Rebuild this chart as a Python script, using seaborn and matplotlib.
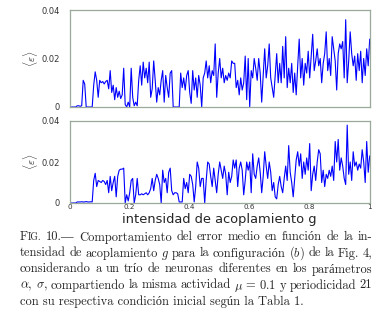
import numpy as np
import matplotlib
matplotlib.use('Agg')
import matplotlib.pyplot as plt
import seaborn as sns

# coupling strength grid and mean error for the two configurations
g = np.linspace(0, 1, 201)

err_top = [
    0, 0, 0, 0, 0, .0005, .0005, .0003, .0005, .011,
    .0095, 0, 0, 0, 0, 0, .009, .0145, .011, .004,
    .011, .010, .0105, .0095, .0105, .011, .0075, .015, .006, .009,
    .003, .008, .004, .0065, .0035, .005, .016, .001, 0, .002,
    0, .016, .004, .0005, .002, .0005, .011, .017, .009, .0185,
    .012, .016, .010, .0185, .004, .0075, .019, .011, .002, .008,
    .005, .011, .015, .002, .013, .008, .004, .014, .015, 0,
    0, 0, 0, 0, .014, .008, .012, .007, .013, .015,
    .006, .0015, .015, .007, .012, .004, .013, .009, 0, .012,
    .014, .019, .012, .017, .010, .015, .013, .026, .004, .014,
    .020, .012, .016, .010, .013, .011, .014, .012, .019, .018,
    .018, .008, .011, .005, .012, .007, .010, .021, .003, .020,
    0, .015, .012, .020, .016, .011, .020, .014, .002, .013,
    .024, .012, .017, .026, .012, .008, .004, .013, .022, .010,
    .018, .010, .025, .012, .029, .008, .016, .010, .018, .006,
    .014, .005, .017, .028, .012, .020, .009, .018, .014, .023,
    .012, .021, .030, .015, .019, .024, .017, .020, .010, .018,
    .022, .031, .015, .020, .013, .029, .024, .019, .007, .022,
    .026, .024, .027, .012, .036, .010, .019, .031, .022, .017,
    .021, .011, .022, .015, .023, .010, .020, .013, .024, .017,
    .028,
]

err_bottom = [
    0, 0, 0, 0, 0, .0005, .0005, .0005, .0006, .0005,
    .0005, .0007, .0005, .0005, .0006, .0005, .011, .0145, .008, .011,
    .0105, .010, .011, .0105, .009, .011, .005, .013, .006, .010,
    .013, .003, .013, .016, .0165, .0165, .017, 0, .004, .001,
    .005, .011, .012, 0, .004, .012, .004, .004, .0045, .004,
    .0045, .005, .004, .005, .007, .012, .006, .011, .014, .012,
    .009, 0, .016, .010, .012, .005, .015, .017, .006, .004,
    .005, .005, .0045, .0005, .0005, .0005, .012, .007, .010, .005,
    .014, .013, .009, .0005, .008, .020, .017, .008, .012, .012,
    0, .011, .020, .019, .013, .008, .017, .011, .005, .014,
    .020, .016, .012, .018, .014, .004, .015, .010, .013, .021,
    .017, .021, .008, .017, .020, .016, .004, .011, .020, .016,
    .020, .005, .024, .014, .012, .018, .022, .015, .005, .013,
    .025, .018, .012, .020, .015, .006, .010, .003, .002, .009,
    .013, .008, .005, .012, .018, .011, .028, .015, .010, .003,
    .012, .021, .025, .018, .024, .012, .020, .014, .022, .016,
    .029, .006, .014, .018, .011, .020, .026, .024, .010, .016,
    .008, .014, .012, .016, .013, .018, .011, .030, .020, .031,
    .016, .022, .018, .012, .009, .038, .014, .020, .011, .025,
    .018, .020, .016, .019, .017, .026, .020, .010, .030, .015,
    .023,
]

y_ticks = [0, 0.02, 0.04]
y_ticklabels = ['0', '0.02', '0.04']
x_ticks = [0, 0.2, 0.4, 0.6, 0.8, 1]
x_ticklabels = ['0', '0.2', '0.4', '0.6', '0.8', '1']
x_label = 'intensidad de acoplamiento g'
y_label = r'$\langle\varepsilon\rangle$'

# caption words per line; a word can be split in pieces with a size factor (small caps)
caption = [
    [[('F', 1.0), ('IG.', 0.78)], '10.\u2014', 'Comportamiento', 'del', 'error', 'medio', 'en', 'función', 'de', 'la', 'in-'],
    ['tensidad', 'de', 'acoplamiento', '$g$', 'para', 'la', 'configuración', '($b$)', 'de', 'la', 'Fig.', '4,'],
    ['considerando', 'a', 'un', 'trío', 'de', 'neuronas', 'diferentes', 'en', 'los', 'parámetros'],
    [r'$\alpha$,', r'$\sigma$,', 'compartiendo', 'la', 'misma', 'actividad', r'$\mu\,=\,0.1$', 'y', 'periodicidad', '21'],
]
caption_last = 'con su respectiva condición inicial según la Tabla 1.'

sns.set_style('white')
plt.rcParams['mathtext.fontset'] = 'cm'

W, H = 390, 314
fig = plt.figure(figsize=(W / 100, H / 100), dpi=100)
frame_col = '#9aaa9a'

ax1 = fig.add_axes([69.7 / W, 1 - 107 / H, 300 / W, 97 / H])
ax2 = fig.add_axes([69.7 / W, 1 - 203 / H, 300 / W, 82 / H])

for ax, err in [(ax1, err_top), (ax2, err_bottom)]:
    sns.lineplot(x=g, y=err, ax=ax, color='#0000ff', linewidth=0.8, estimator=None)
    ax.set_xlim(0, 1)
    ax.set_ylim(0, 0.04)
    ax.set_yticks(y_ticks)
    ax.set_yticklabels(y_ticklabels)
    ax.set_xticks(x_ticks)
    ax.set_xticklabels(x_ticklabels)
    for s in ax.spines.values():
        s.set_color(frame_col)
        s.set_linewidth(0.9)
    ax.tick_params(direction='in', length=3, width=0.7, color='#606060',
                   labelsize=6, labelcolor='#333333', pad=7)
    ax.tick_params(axis='x', labelsize=5.2, pad=0.5)
    ax.set_xlabel('')
    ax.set_ylabel('')
    ax.set_facecolor('white')

ax1.tick_params(axis='x', labelbottom=False)

fig.text(30 / W, 1 - 58.5 / H, y_label, rotation=90, ha='center', va='center', fontsize=8)
fig.text(30 / W, 1 - 162 / H, y_label, rotation=90, ha='center', va='center', fontsize=8)
fig.text(219 / W, 1 - 222.5 / H, x_label, ha='center', va='baseline', fontsize=9.4,
         family='DejaVu Sans')

# caption, justified between x0 and x1 like the printed text
cap_size = 9
cap_font = dict(family=['cmr10', 'Liberation Serif'], va='baseline', ha='left')
x0, x1 = 20, 372
renderer = fig.canvas.get_renderer()
base = 240.5
for i, words in enumerate(caption):
    y = 1 - (base + 16 * i) / H
    pieces, widths = [], []
    for w in words:
        parts = w if isinstance(w, list) else [(w, 1.0)]
        ts = [fig.text(0, y, s, fontsize=cap_size * f, **cap_font) for s, f in parts]
        ws = [t.get_window_extent(renderer).width for t in ts]
        pieces.append((ts, ws))
        widths.append(sum(ws))
    gap = ((x1 - x0) - sum(widths)) / (len(words) - 1)
    x = x0
    for ts, ws in pieces:
        for t, w in zip(ts, ws):
            t.set_x(x / W)
            x += w
        x += gap
fig.text(x0 / W, 1 - (base + 16 * 4) / H, caption_last, fontsize=cap_size, **cap_font)

fig.savefig('out.png', dpi=100)
